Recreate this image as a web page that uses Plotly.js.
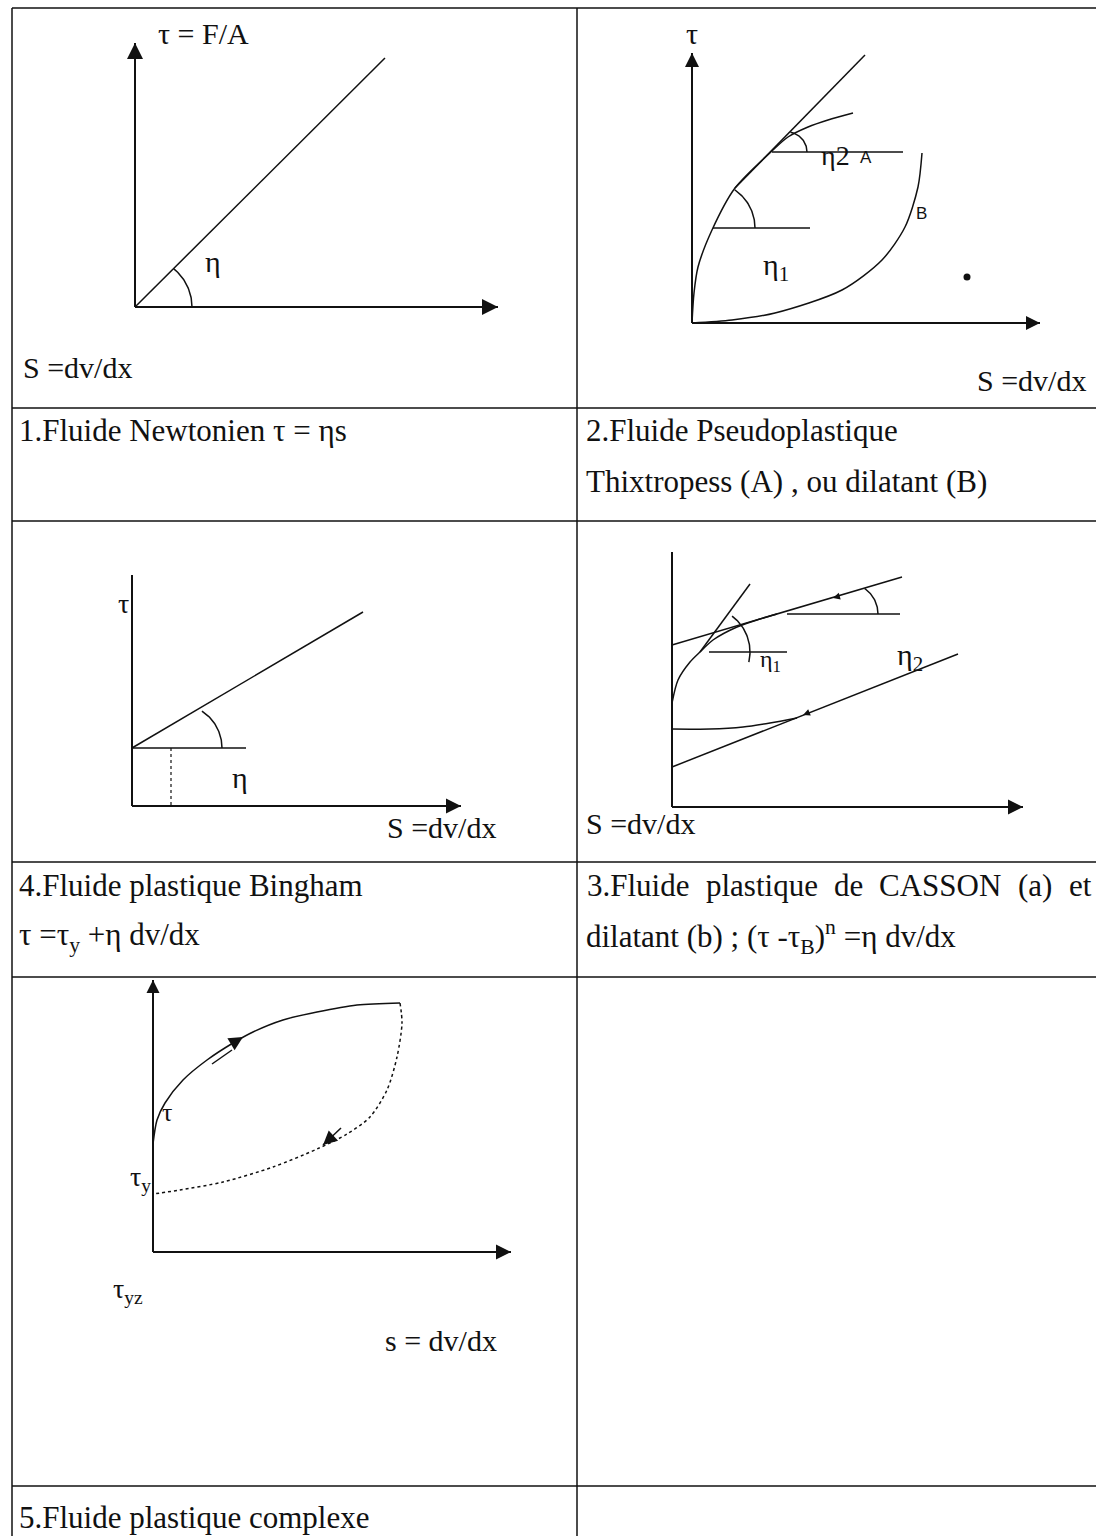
<!DOCTYPE html>
<html>
<head>
<meta charset="utf-8">
<script src="https://cdn.plot.ly/plotly-3.0.1.min.js"></script>
<style>
  html, body { margin: 0; padding: 0; background: #ffffff; }
  #chart { width: 1096px; height: 1536px; }
</style>
</head>
<body>
<div id="chart"></div>
<script>
// Rheograms: shear stress τ against shear rate S = dv/dx (schematic units)

// 1. Newtonian fluid
const newtonRate   = [0, 250];
const newtonStress = [0, 249];
const newtonAngle  = { center: [8, 0], radius: 49, sweep: [0, 51] };

// 2. Pseudoplastic, thixotropic (A) and dilatant (B)
const curveARate     = [0, 2, 6, 20, 43, 80, 96, 116, 136, 161];
const curveAStress   = [0, 30, 56, 93, 135, 172, 186, 196, 203, 210];
const tangentARate   = [43, 173];
const tangentAStress = [135, 268];
const curveBRate     = [0, 40, 83, 150, 190, 213, 226, 230];
const curveBStress   = [0, 3, 10, 33, 63, 96, 136, 170];
const eta1RefRate    = [21, 118];
const eta1RefStress  = [95, 95];
const eta2RefRate    = [80, 211];
const eta2RefStress  = [171, 171];
const eta1Angle      = { center: [17, 95], radius: 46, sweep: [0, 56] };
const eta2Angle      = { center: [95, 171], radius: 20, sweep: [0, 80] };
const strayPoint     = [275, 46];

// 4. Bingham plastic
const binghamRate     = [0, 231];
const binghamStress   = [58, 194];
const binghamRefRate  = [0, 114];
const binghamRefStress = [58, 58];
const binghamDropRate = [39, 39];
const binghamDropStress = [58, 0];
const binghamAngle    = { center: [46, 58], radius: 44, sweep: [0, 57] };

// 3. Casson plastic (a) and dilatant (b)
const cassonCurveRate    = [0, 6, 18, 28, 41, 65, 88, 105];
const cassonCurveStress  = [104, 127, 145, 155, 167, 180, 188, 193];
const cassonLineRate     = [0, 230];
const cassonLineStress   = [162, 230];
const cassonTangentRate  = [28, 78];
const cassonTangentStress = [155, 223];
const dilatantLineRate   = [0, 286];
const dilatantLineStress = [40, 153];
const dilatantCurveRate  = [0, 38, 71, 98, 125];
const dilatantCurveStress = [78, 78, 80, 84, 89];
const cassonRef1Rate     = [37, 115];
const cassonRef1Stress   = [155, 155];
const cassonRef2Rate     = [115, 228];
const cassonRef2Stress   = [193, 193];
const cassonAngle1       = { center: [33, 155], radius: 45, sweep: [-13, 53] };
const cassonAngle2       = { center: [175, 193], radius: 31, sweep: [0, 55] };
const flowMarkRate       = [161, 131];
const flowMarkStress     = [209, 92];
const flowMarkHeading    = [196, 202];

// 5. Complex plastic fluid (hysteresis loop)
const loopUpRate     = [0, 4, 12, 30, 54, 80, 100, 130, 164, 204, 247];
const loopUpStress   = [108, 132, 149, 172, 192, 209, 220, 232, 240, 247, 249];
const loopDownRate   = [247, 249, 244, 234, 217, 194, 164, 120, 70, 27, 0];
const loopDownStress = [249, 229, 195, 162, 135, 118, 103, 85, 70, 62, 58];
const loopTickRate   = [59, 79];
const loopTickStress = [188, 202];
const loopReturnRate   = [188, 170];
const loopReturnStress = [124, 107];
const loopArrowRate    = [90, 170];
const loopArrowStress  = [215, 107];
const loopArrowHeading = [31, 222];

// Captions
const captionNewton  = '1.Fluide Newtonien τ = ηs';
const captionPseudo  = ['2.Fluide Pseudoplastique', 'Thixtropess (A) , ou dilatant (B)'];
const captionBingham = ['4.Fluide plastique Bingham', 'τ =τ<sub>y</sub> +η dv/dx'];
const captionCasson1 = ['3.Fluide', 'plastique', 'de', 'CASSON', '(a)', 'et'];
const captionCasson2 = 'dilatant (b) ; (τ -τ<sub>B</sub>)<sup>n</sup> =η dv/dx';
const captionComplex = '5.Fluide plastique complexe';

// ---------------------------------------------------------------------------
const W = 1096, H = 1536;
const SERIF = 'Liberation Serif, Times New Roman, serif';
const SANS = 'Liberation Sans, Arial, sans-serif';
const INK = '#111111';
const CAPTION_SIZE = 31;

// Each diagram gets its own pair of axes: 1 unit = 1 px, origin at the axes corner.
const panels = {
  newton:  { id: '',  origin: [135, 307],  xEnd: 363, yEnd: 264, xArrow: 16, yArrow: 16 },
  pseudo:  { id: '2', origin: [692, 323],  xEnd: 348, yEnd: 270, xArrow: 14, yArrow: 14 },
  bingham: { id: '3', origin: [132, 806],  xEnd: 329, yEnd: 231, xArrow: 15, yArrow: 0 },
  casson:  { id: '4', origin: [672, 807],  xEnd: 351, yEnd: 255, xArrow: 15, yArrow: 0 },
  complex: { id: '5', origin: [153, 1252], xEnd: 358, yEnd: 272, xArrow: 15, yArrow: 13 }
};

const traces = [];
const annotations = [];
const layout = {
  width: W, height: H,
  margin: { l: 0, r: 0, t: 0, b: 0 },
  paper_bgcolor: '#ffffff', plot_bgcolor: '#ffffff',
  showlegend: false,
  shapes: [],
  annotations: annotations
};

Object.values(panels).forEach((p, i) => {
  const [ox, oy] = p.origin;
  const xa = { range: [-ox, W - ox], visible: false, fixedrange: true, domain: [0, 1] };
  const ya = { range: [-(H - oy), oy], visible: false, fixedrange: true, domain: [0, 1] };
  if (i > 0) { xa.overlaying = 'x'; ya.overlaying = 'y'; xa.anchor = 'y' + p.id; ya.anchor = 'x' + p.id; }
  layout['xaxis' + p.id] = xa;
  layout['yaxis' + p.id] = ya;
});

function ax(p) { return { xaxis: 'x' + p.id, yaxis: 'y' + p.id }; }

function line(p, xs, ys, opts = {}) {
  traces.push(Object.assign({
    type: 'scatter', mode: 'lines', x: xs, y: ys, hoverinfo: 'skip',
    line: Object.assign({ color: INK, width: 1.5 }, opts.line || {})
  }, ax(p)));
}

function arc(p, a, opts = {}) {
  const xs = [], ys = [];
  const [a0, a1] = a.sweep;
  for (let k = 0; k <= 40; k++) {
    const t = (a0 + (a1 - a0) * k / 40) * Math.PI / 180;
    xs.push(a.center[0] + a.radius * Math.cos(t));
    ys.push(a.center[1] + a.radius * Math.sin(t));
  }
  line(p, xs, ys, opts);
}

function heads(p, xs, ys, headings, size) {
  traces.push(Object.assign({
    type: 'scatter', mode: 'markers', x: xs, y: ys, hoverinfo: 'skip',
    marker: { symbol: 'arrow-up', size: size, color: INK,
              angle: headings.map(h => 90 - h), line: { width: 0 } }
  }, ax(p)));
}

function label(p, x, y, text, size, opts = {}) {
  annotations.push(Object.assign({
    xref: 'x' + p.id, yref: 'y' + p.id, x: x, y: y, text: text, showarrow: false,
    xanchor: 'center', yanchor: 'middle',
    font: { family: SERIF, size: size, color: INK }
  }, opts));
}

function caption(px, py, text, anchor = 'left') {
  annotations.push({
    xref: 'paper', yref: 'paper', x: px / W, y: 1 - py / H, text: text, showarrow: false,
    xanchor: anchor, yanchor: 'middle', borderpad: 0,
    font: { family: SERIF, size: CAPTION_SIZE, color: INK }
  });
}

// Justified caption line: spread the words evenly between two edges
function justified(words, left, right, py) {
  const ctx = document.createElement('canvas').getContext('2d');
  ctx.font = CAPTION_SIZE + 'px "Liberation Serif"';
  const widths = words.map(w => ctx.measureText(w).width);
  const gap = (right - left - widths.reduce((a, b) => a + b, 0)) / (words.length - 1);
  let x = left;
  words.forEach((w, i) => { caption(x, py, w); x += widths[i] + gap; });
}

// Axes with arrow heads
Object.values(panels).forEach(p => {
  line(p, [0, p.xEnd], [0, 0], { line: { width: 2 } });
  line(p, [0, 0], [0, p.yEnd], { line: { width: 2 } });
  heads(p, [p.xEnd], [0], [0], p.xArrow);
  if (p.yArrow) heads(p, [0], [p.yEnd], [90], p.yArrow);
});

// 1. Newtonian
{
  const p = panels.newton;
  line(p, newtonRate, newtonStress);
  arc(p, newtonAngle);
  label(p, 78, 46, 'η', 30);
  label(p, 68, 274, 'τ = F/A', 30);
  label(p, -114, -60, 'S =dv/dx', 30, { xanchor: 'left' });
}

// 2. Pseudoplastic / dilatant
{
  const p = panels.pseudo;
  line(p, tangentARate, tangentAStress);
  line(p, curveARate, curveAStress, { line: { shape: 'spline', smoothing: 0.8 } });
  line(p, curveBRate, curveBStress, { line: { shape: 'spline', smoothing: 0.8 } });
  line(p, eta1RefRate, eta1RefStress);
  line(p, eta2RefRate, eta2RefStress);
  arc(p, eta1Angle);
  arc(p, eta2Angle);
  traces.push(Object.assign({
    type: 'scatter', mode: 'markers', x: [strayPoint[0]], y: [strayPoint[1]], hoverinfo: 'skip',
    marker: { size: 7, color: INK }
  }, ax(p)));
  label(p, 0, 290, 'τ', 30);
  label(p, 84, 56, 'η<sub>1</sub>', 30);
  label(p, 143, 168, 'η2', 28);
  label(p, 174, 166, 'A', 17, { font: { family: SANS, size: 17, color: INK } });
  label(p, 229, 110, 'B', 17, { font: { family: SANS, size: 17, color: INK } });
  label(p, 396, -57, 'S =dv/dx', 30, { xanchor: 'right' });
}

// 4. Bingham
{
  const p = panels.bingham;
  line(p, binghamRate, binghamStress);
  line(p, binghamRefRate, binghamRefStress);
  line(p, binghamDropRate, binghamDropStress, { line: { dash: 'dot', width: 1.2 } });
  arc(p, binghamAngle);
  label(p, -9, 203, 'τ', 28);
  label(p, 108, 29, 'η', 30);
  label(p, 253, -21, 'S =dv/dx', 30, { xanchor: 'left' });
}

// 3. Casson / dilatant
{
  const p = panels.casson;
  line(p, cassonLineRate, cassonLineStress);
  line(p, cassonTangentRate, cassonTangentStress);
  line(p, cassonCurveRate, cassonCurveStress, { line: { shape: 'spline', smoothing: 0.8 } });
  line(p, dilatantLineRate, dilatantLineStress);
  line(p, dilatantCurveRate, dilatantCurveStress, { line: { shape: 'spline', smoothing: 0.8 } });
  line(p, cassonRef1Rate, cassonRef1Stress);
  line(p, cassonRef2Rate, cassonRef2Stress);
  arc(p, cassonAngle1);
  arc(p, cassonAngle2);
  heads(p, flowMarkRate, flowMarkStress, flowMarkHeading, 7);
  label(p, 98, 146, 'η<sub>1</sub>', 24);
  label(p, 238, 150, 'η<sub>2</sub>', 30);
  label(p, -88, -16, 'S =dv/dx', 30, { xanchor: 'left' });
}

// 5. Complex plastic loop
{
  const p = panels.complex;
  line(p, loopUpRate, loopUpStress, { line: { shape: 'spline', smoothing: 0.8 } });
  line(p, loopDownRate, loopDownStress, { line: { shape: 'spline', smoothing: 0.8, dash: 'dot', width: 1.5 } });
  line(p, loopTickRate, loopTickStress);
  line(p, loopReturnRate, loopReturnStress);
  heads(p, loopArrowRate, loopArrowStress, loopArrowHeading, 14);
  label(p, 14, 140, 'τ', 26);
  label(p, -13, 74, 'τ<sub>y</sub>', 28);
  label(p, -25, -38, 'τ<sub>yz</sub>', 28);
  label(p, 288, -88, 's = dv/dx', 30);
}

// Table frame
const rowRules = [8, 408, 521, 862, 977, 1486];
const colRules = [12, 577];
rowRules.forEach(py => layout.shapes.push({
  type: 'line', xref: 'paper', yref: 'paper', x0: 12 / W, x1: 1, y0: 1 - py / H, y1: 1 - py / H,
  line: { color: INK, width: 1.5 }
}));
colRules.forEach(px => layout.shapes.push({
  type: 'line', xref: 'paper', yref: 'paper', x0: px / W, x1: px / W, y0: 0, y1: 1 - 8 / H,
  line: { color: INK, width: 1.5 }
}));

// Captions
caption(18, 430, captionNewton);
caption(585, 430, captionPseudo[0]);
caption(585, 482, captionPseudo[1]);
caption(18, 885, captionBingham[0]);
caption(18, 937, captionBingham[1]);
justified(captionCasson1, 586, 1090, 885);
caption(585, 937, captionCasson2);
caption(18, 1517, captionComplex);

Plotly.newPlot('chart', traces, layout, { staticPlot: true, displayModeBar: false });
</script>
</body>
</html>
